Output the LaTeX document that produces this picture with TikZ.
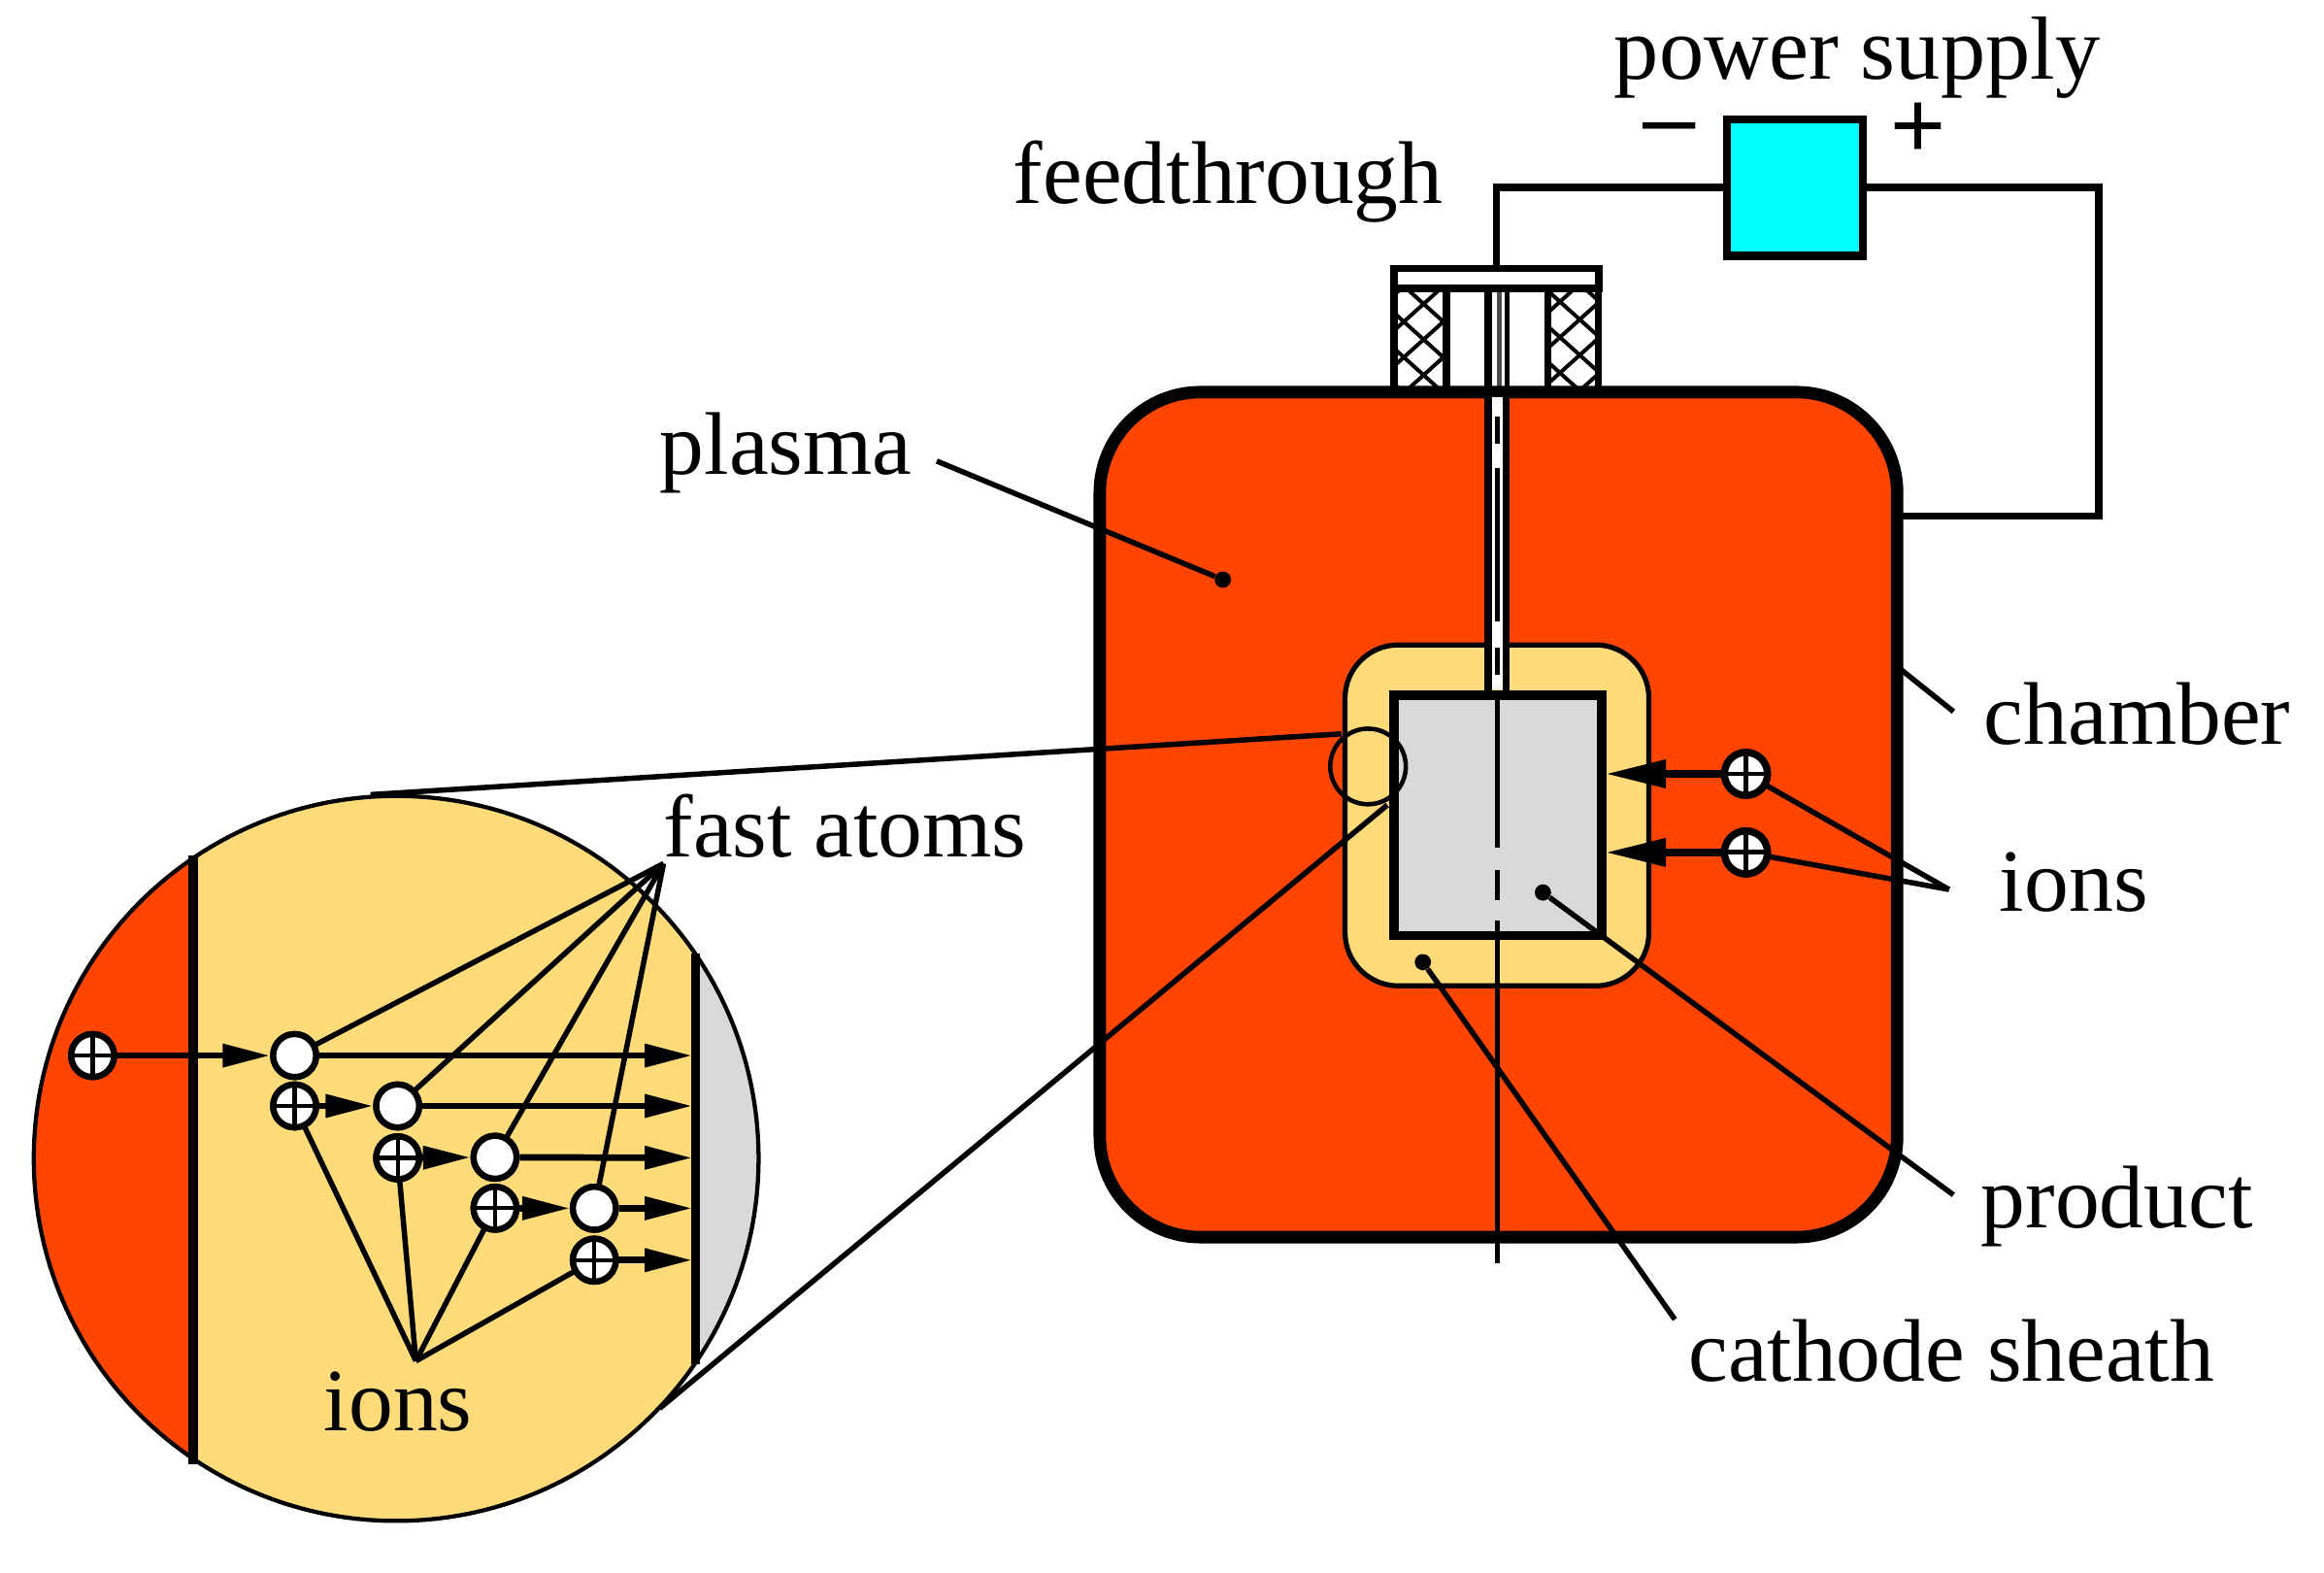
\documentclass[tikz,border=0pt]{standalone}
\usepackage{fontspec}
\setmainfont{Liberation Serif}
\newfontfamily\signfont{Liberation Sans}
\usetikzlibrary{arrows.meta}
\definecolor{plasmac}{HTML}{FF4500}
\definecolor{sheathc}{HTML}{FFDB7A}
\definecolor{prodc}{HTML}{D9D9D9}
\definecolor{psuc}{HTML}{00FFFF}
\tikzset{
  x=1pt,y=-1pt,
  lbl/.style={anchor=base west,inner sep=0pt,font=\fontsize{60}{60}\selectfont},
  sign/.style={inner sep=0pt,font=\signfont\fontsize{64}{64}\selectfont},
  wire/.style={line width=4.8pt,line cap=butt},
  leader/.style={line width=3.6pt},
  dot/.style={circle,fill=black,inner sep=0pt,minimum size=11pt},
  ionbase/.style={circle,draw,fill=white,inner sep=0pt,outer sep=0pt,
    path picture={\draw[line width=#1]
      (path picture bounding box.west)--(path picture bounding box.east)
      (path picture bounding box.north)--(path picture bounding box.south);}},
  ion/.style={ionbase=2.8pt,line width=4.2pt,minimum size=29pt},
  bigion/.style={ionbase=3.2pt,line width=4.8pt,minimum size=29pt},
  atom/.style={circle,draw,fill=white,line width=4.2pt,inner sep=0pt,minimum size=29pt},
  shaft/.style={line width=4.4pt,-{Triangle[length=32pt,width=15pt]}},
  bigshaft/.style={line width=5.5pt,-{Triangle[length=41pt,width=18pt]}},
}
\begin{document}
\begin{tikzpicture}
\useasboundingbox (0,0) rectangle (1568,1061);
\fill[white] (0,0) rectangle (1568,1061);

% feedthrough
\begin{scope}
  \clip (941,193) rectangle (976,263);
  \foreach \k in {-4,...,5}{
    \draw[line width=2.6pt] (960.5-40,205+\k*24-36) -- (960.5+40,205+\k*24+36);
    \draw[line width=2.6pt] (960.5-40,205+\k*24+36) -- (960.5+40,205+\k*24-36);
  }
\end{scope}
\begin{scope}
  \clip (1044,193) rectangle (1079,263);
  \foreach \k in {-4,...,5}{
    \draw[line width=2.6pt] (1052.5-40,203.5+\k*24-36) -- (1052.5+40,203.5+\k*24+36);
    \draw[line width=2.6pt] (1052.5-40,203.5+\k*24+36) -- (1052.5+40,203.5+\k*24-36);
  }
\end{scope}
\draw[line width=4.8pt] (940.6,193) -- (940.6,263) (976,193) -- (976,263);
\draw[line width=4.4pt] (1044.5,193) -- (1044.5,263) (1078.4,193) -- (1078.4,263);
\draw[line width=5pt] (1004,193) -- (1004,263);
\draw[line width=3.4pt] (1016.7,193) -- (1016.7,263);
\draw[line width=3pt,black!70] (1011.5,193) -- (1011.5,263);
\node[draw,fill=white,line width=5pt,minimum width=138pt,minimum height=13.5pt,inner sep=0pt,outer sep=0pt] (flange) at (1009.6,187.8) {};

% chamber, sheath, product
\node[draw,fill=plasmac,line width=8.4pt,rounded corners=68pt,minimum width=538pt,minimum height=570pt,inner sep=0pt,outer sep=0pt] (chamber) at (1011,549.5) {};
\node[draw,fill=sheathc,line width=3.4pt,rounded corners=36pt,minimum width=205pt,minimum height=230pt,inner sep=0pt,outer sep=0pt] (sheath) at (1010,550) {};
\node[draw,fill=prodc,line width=6.4pt,minimum width=140pt,minimum height=162pt,inner sep=0pt,outer sep=0pt] (product) at (1010.5,550) {};

% rod and axis
\fill[white] (1004,268) rectangle (1017,465);
\draw[line width=5pt] (1004,266.5) -- (1004,466) (1016.2,266.5) -- (1016.2,466);
\draw[line width=3.2pt]
  (1010,281) -- (1010,299) (1010,315.5) -- (1010,419) (1010,437) -- (1010,455)
  (1010.5,467) -- (1010.5,572) (1010.5,587) -- (1010.5,607) (1010.5,621) -- (1010.5,852);

% power supply and wiring
\node[draw,fill=psuc,line width=5.4pt,minimum width=92pt,minimum height=92pt,inner sep=0pt,outer sep=0pt] (psu) at (1211,126.5) {};
\draw[wire] (psu.west) -| (flange.north);
\coordinate (chamberwire) at (1284,348);
\draw[wire] (psu.east) -| (1416,348) -- (chamberwire);
\node[sign] (minus) at (1126,92) {–};
\node[sign] (plus) at (1294.5,88) {+};

% main ions
\node[bigion] (mion1) at (1178,522) {};
\node[bigion] (mion2) at (1178,575) {};
\coordinate (mtip1) at (1083,522);
\coordinate (mtip2) at (1083,575);
\draw[bigshaft] (mion1) -- (mtip1);
\draw[bigshaft] (mion2) -- (mtip2);

% leaders main
\node[dot] (plasmadot) at (825,391) {};
\coordinate (plasmaend) at (632,311);
\draw[leader] (plasmaend) -- (plasmadot);
\node[dot] (productdot) at (1041,602) {};
\coordinate (productend) at (1318,806);
\draw[leader] (productdot) -- (productend);
\node[dot] (sheathdot) at (960,649) {};
\coordinate (sheathend) at (1130,890);
\draw[leader] (sheathdot) -- (sheathend);
\coordinate (chamberA) at (1283,452);
\coordinate (chamberB) at (1318,480);
\draw[leader] (chamberA) -- (chamberB);
\coordinate (ionsapex) at (1315,600);
\draw[leader] (mion1) -- (ionsapex);
\draw[leader] (mion2) -- (ionsapex);
\node[bigion] at (mion1) {};
\node[bigion] at (mion2) {};

% small circle
\node[circle,draw,line width=3pt,minimum size=51pt,inner sep=0pt,outer sep=0pt] (small) at (923,517) {};

% magnifier
\node[circle,minimum size=489pt,inner sep=0pt,outer sep=0pt] (mag) at (267.3,781.4) {};
\begin{scope}
  \clip (mag.center) circle[radius=244.5pt];
  \fill[sheathc] (130,530) rectangle (470,1030);
  \fill[plasmac] (20,530) rectangle (130,1030);
  \fill[prodc] (469,530) rectangle (515,1030);
\end{scope}
\draw[line width=2.8pt] (mag.center) circle[radius=244.5pt];
\draw[line width=6.5pt] (130.3,577) -- (130.3,988);
\draw[line width=5.8pt] (469.4,643) -- (469.4,920);
\coordinate (tanTopA) at (905,495);
\coordinate (tanTopB) at (250,536);
\coordinate (tanBotA) at (936,543);
\coordinate (tanBotB) at (445,950);
\draw[leader] (tanTopA) -- (tanTopB);
\draw[leader] (tanBotA) -- (tanBotB);

% magnifier particles
\coordinate (atomsapex) at (447.7,582.5);
\coordinate (ionsapexB) at (280.6,918);
\node[ion] (i0) at (62.5,712) {};
\node[atom] (a1) at (198.8,712) {};
\node[atom] (a2) at (268.3,746) {};
\node[atom] (a3) at (334,780.6) {};
\node[atom] (a4) at (401,815) {};
\node[ion] (i1) at (198.8,746) {};
\node[ion] (i2) at (268.3,781) {};
\node[ion] (i3) at (334,815) {};
\node[ion] (i4) at (401,850) {};
\foreach \n in {a1,a2,a3,a4}{\draw[leader] (\n) -- (atomsapex);}
\foreach \n in {i1,i2,i3,i4}{\draw[leader] (\n) -- (ionsapexB);}
\coordinate (w1) at (467,712);
\coordinate (w2) at (467,746);
\coordinate (w3) at (467,781);
\coordinate (w4) at (467,815);
\coordinate (w5) at (467,850);
\draw[shaft] (a1) -- (w1);
\draw[shaft] (a2) -- (w2);
\draw[shaft] (a3) -- (w3);
\draw[shaft] (a4) -- (w4);
\draw[shaft] (i4) -- (w5);
\draw[shaft] (i0) -- (a1);
\draw[shaft] (i1) -- (a2);
\draw[shaft] (i2) -- (a3);
\draw[shaft] (i3) -- (a4);
% particles on top of their lines
\node[ion] at (i0) {};
\node[atom] at (a1) {};
\node[atom] at (a2) {};
\node[atom] at (a3) {};
\node[atom] at (a4) {};
\node[ion] at (i1) {};
\node[ion] at (i2) {};
\node[ion] at (i3) {};
\node[ion] at (i4) {};

% labels
\node[lbl] (tps) at (1089,53.5) {\fontsize{60.5}{60}\selectfont power supply};
\node[lbl] (tft) at (683.5,137.5) {feedthrough};
\node[lbl] (tpl) at (445,320) {plasma};
\node[lbl] (tch) at (1338.5,502) {chamber};
\node[lbl] (tio) at (1349,615) {ions};
\node[lbl] (tpr) at (1336.5,828) {product};
\node[lbl] (tcs) at (1139,932) {cathode sheath};
\node[lbl] (tfa) at (447.5,578) {fast atoms};
\node[lbl] (tib) at (218.5,965) {ions};
\end{tikzpicture}
\end{document}
